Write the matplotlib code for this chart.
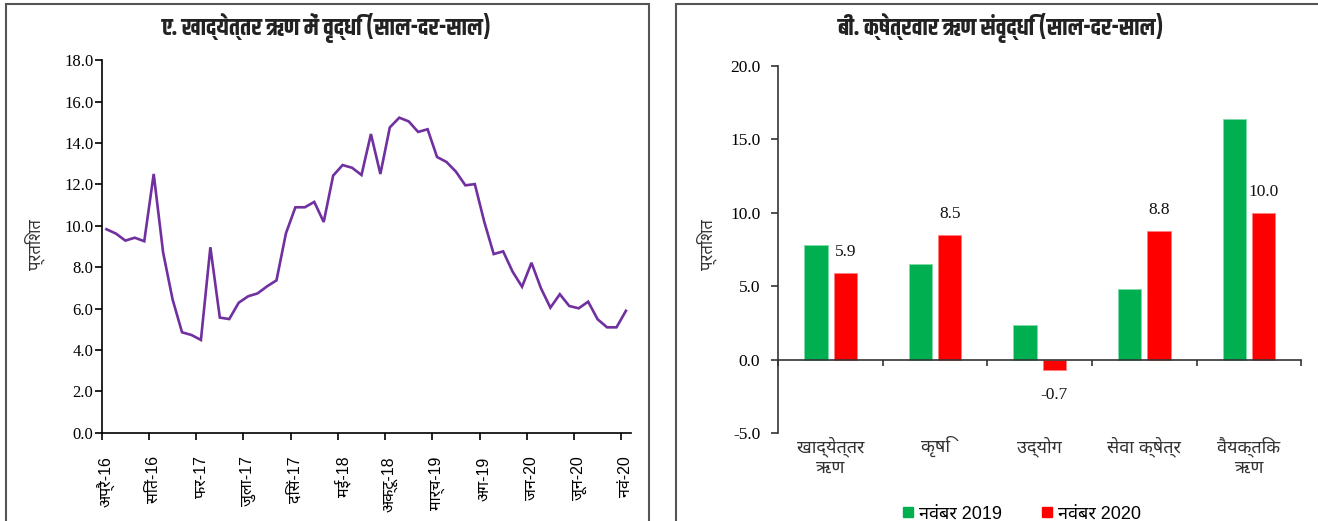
import numpy as np
import matplotlib
matplotlib.use("Agg")
import matplotlib.pyplot as plt
from matplotlib import font_manager
from matplotlib.patches import Rectangle
from matplotlib.lines import Line2D


def pick(*names):
    # first family that is actually installed
    for n in names:
        try:
            font_manager.findfont(font_manager.FontProperties(family=n), fallback_to_default=False)
            return n
        except Exception:
            pass
    return "DejaVu Sans"


DEVA = pick("Noto Sans Devanagari", "Mukta", "Hind", "Poppins")
HEAD = pick("Khand", "Noto Sans Devanagari", "Mukta")
SANS = ["Liberation Sans", DEVA, "DejaVu Sans"]
SERIF = ["Liberation Serif", DEVA, "DejaVu Serif"]

# ===== DATA: non-food credit growth, monthly Apr-16 .. Nov-20 =====
nfc_growth = [9.83, 9.62, 9.28, 9.42, 9.25, 12.50, 8.70, 6.44, 4.85, 4.72, 4.48, 8.96,
              5.56, 5.49, 6.28, 6.59, 6.73, 7.07, 7.36, 9.63, 10.89, 10.89, 11.15, 10.18,
              12.42, 12.93, 12.80, 12.45, 14.43, 12.50, 14.75, 15.22, 15.04, 14.53, 14.66, 13.32,
              13.08, 12.61, 11.95, 12.01, 10.19, 8.63, 8.76, 7.78, 7.05, 8.21, 6.98, 6.04,
              6.69, 6.12, 6.01, 6.33, 5.48, 5.09, 5.09, 5.89]
month_ticks = ["अप्रै-16", "सितं-16", "फर-17", "जुला-17", "दिसं-17", "मई-18",
               "अक्टू-18", "मार्च-19", "अग-19", "जन-20", "जून-20", "नवं-20"]
TICK_STEP = 5

# ===== DATA: sectoral credit growth =====
sectors = ["खाद्येत्तर\nऋण", "कृषि", "उद्योग", "सेवा क्षेत्र", "वैयक्तिक\nऋण"]
nov_2019 = [7.8, 6.5, 2.4, 4.8, 16.4]
nov_2020 = [5.9, 8.5, -0.7, 8.8, 10.0]
series_names = ["नवंबर 2019", "नवंबर 2020"]

PURPLE = "#7030A0"
GREEN = "#00B050"
RED = "#FF0000"

fig = plt.figure(figsize=(13.18, 5.21), dpi=100)

# panel frames (cut off at the bottom / right edge)
for x0, x1 in [(6, 649), (676, 1340)]:
    fig.patches.append(Rectangle((x0 / 1318, -0.05), (x1 - x0) / 1318, 1.05 - 4 / 521,
                                 transform=fig.transFigure, fill=False,
                                 edgecolor="#555555", linewidth=1.5))

fig.text(327 / 1318, 1 - 28 / 521, "ए. खाद्येत्तर ऋण में वृद्धि (साल-दर-साल)",
         ha="center", va="center", fontsize=17, fontweight="bold", family=[HEAD, "DejaVu Sans"],
         color="#222222")
fig.text(1001 / 1318, 1 - 28 / 521, "बी. क्षेत्रवार ऋण संवृद्धि (साल-दर-साल)",
         ha="center", va="center", fontsize=17, fontweight="bold", family=[HEAD, "DejaVu Sans"],
         color="#222222")

# ===== LEFT: line chart =====
ax1 = fig.add_axes([0.0772, 0.1695, 0.4013, 0.7151])
x = np.arange(len(nfc_growth))
ax1.plot(x, nfc_growth, color=PURPLE, linewidth=1.9, solid_joinstyle="miter")
ax1.set_xlim(-0.5, len(nfc_growth) - 0.5)
ax1.set_ylim(0, 18)
ax1.set_yticks(np.arange(0, 18.1, 2))
ax1.set_yticklabels([f"{v:.1f}" for v in np.arange(0, 18.1, 2)], family=SERIF, fontsize=12)
major = np.arange(0, len(nfc_growth), TICK_STEP)
ax1.set_xticks(major)
ax1.set_xticklabels(month_ticks, rotation=90, family=SANS, fontsize=11.5, va="top")
ax1.set_xticks(major - 0.5, minor=True)
ax1.tick_params(axis="x", which="major", length=0, pad=17)
ax1.tick_params(axis="x", which="minor", length=5, width=1.2, direction="out", color="black")
ax1.tick_params(axis="y", length=5, width=1.2, pad=1, color="black")
for s in ["top", "right"]:
    ax1.spines[s].set_visible(False)
for s in ["left", "bottom"]:
    ax1.spines[s].set_linewidth(1.2)
ax1.set_ylabel("प्रतिशत", family=SANS, fontsize=12, color="#333333")
ax1.yaxis.set_label_coords(-0.108, 0.506)

# ===== RIGHT: grouped bars =====
ax2 = fig.add_axes([0.5905, 0.1683, 0.3968, 0.7050])
pos = np.arange(len(sectors))
bw = 0.223
off = 0.14
ax2.bar(pos - off, nov_2019, width=bw, color=GREEN, edgecolor="#7fdcaa", linewidth=0.6)
bars20 = ax2.bar(pos + off, nov_2020, width=bw, color=RED, edgecolor="#ff8080", linewidth=0.6)
for b, v in zip(bars20, nov_2020):
    ax2.annotate(f"{v:.1f}", (b.get_x() + b.get_width() / 2, v),
                 xytext=(0, 15 if v >= 0 else -18), textcoords="offset points",
                 ha="center", va="center", family=SERIF, fontsize=12.5, color="#111111")
ax2.set_xlim(-0.5, len(sectors) - 0.5)
ax2.set_ylim(-5, 20)
yt = np.arange(-5, 20.1, 5)
ax2.set_yticks(yt)
ax2.set_yticklabels([f"{v:.1f}" for v in yt], family=SERIF, fontsize=12.5)
ax2.tick_params(axis="y", length=5, width=1.2, pad=8, color="#333333")
ax2.set_xticks(np.append(pos + 0.5, -0.5))
ax2.set_xticklabels([])
ax2.tick_params(axis="x", length=4, width=1.2, direction="out", color="#333333")
ax2.spines["bottom"].set_position(("data", 0))
for s in ["top", "right"]:
    ax2.spines[s].set_visible(False)
for s in ["left", "bottom"]:
    ax2.spines[s].set_linewidth(1.2)
    ax2.spines[s].set_color("#333333")
ymin = ax2.get_ylim()[0]
for p, name in zip(pos, sectors):
    ax2.annotate(name, (p, ymin), xytext=(0, -2), textcoords="offset points",
                 ha="center", va="top", family=SANS, fontsize=13, color="#333333",
                 linespacing=1.25, annotation_clip=False)
ax2.set_ylabel("प्रतिशत", family=SANS, fontsize=12, color="#333333")
ax2.yaxis.set_label_coords(-0.118, 0.513)

handles = [Line2D([], [], marker="s", linestyle="", markersize=7.5, color=GREEN),
           Line2D([], [], marker="s", linestyle="", markersize=7.5, color=RED)]
fig.legend(handles, series_names, loc="center", bbox_to_anchor=(1022 / 1318, 1 - 514 / 521),
           ncol=2, frameon=False, handlelength=0.6, handletextpad=0.3, columnspacing=2.2,
           prop={"family": SANS, "size": 13})

fig.savefig("out.png", dpi=100)
